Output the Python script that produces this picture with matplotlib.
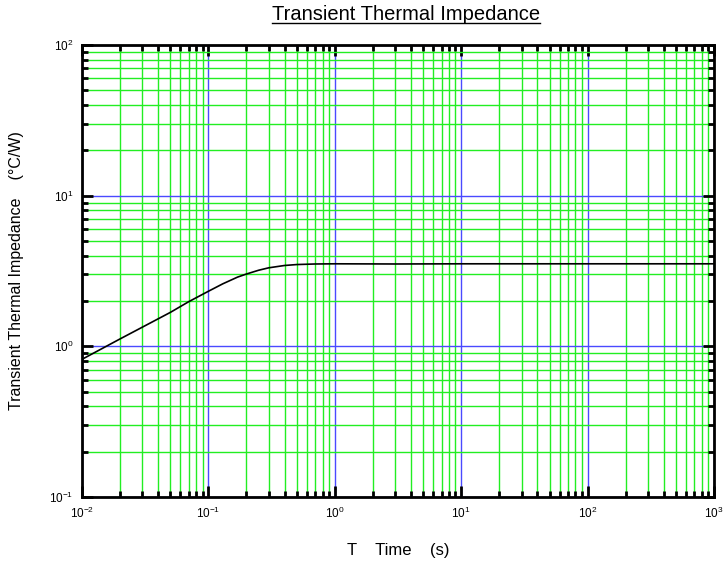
import matplotlib
matplotlib.use("Agg")
import matplotlib.pyplot as plt
from matplotlib.lines import Line2D
import numpy as np

plt.rcParams['font.family'] = ['Liberation Sans', 'DejaVu Sans']
plt.rcParams['mathtext.fontset'] = 'custom'
plt.rcParams['mathtext.rm'] = 'Liberation Sans'

# values
time_s = [0.01, 0.02, 0.03, 0.05, 0.07, 0.1, 0.13, 0.17, 0.2, 0.25, 0.3, 0.4, 0.5, 0.7, 1.0, 3.0, 10.0, 100.0, 1000.0]
zth = [0.82, 1.12, 1.34, 1.68, 1.98, 2.32, 2.60, 2.88, 3.02, 3.20, 3.32, 3.44, 3.49, 3.52, 3.53, 3.52, 3.53, 3.53, 3.53]

title = "Transient Thermal Impedance"
xlabel = "T    Time    (s)"
ylabel = "Transient Thermal Impedance    (°C/W)"

fig = plt.figure(figsize=(7.25, 5.61), dpi=100)
ax = fig.add_axes([82/725, 1-497/561, (714-82)/725, (497-45)/561])

ax.set_xscale('log')
ax.set_yscale('log')
ax.set_xlim(1e-2, 1e3)
ax.set_ylim(1e-1, 1e2)

ax.grid(True, which='minor', color='#22ee22', linewidth=1.0)
ax.grid(True, which='major', color='#4a4aff', linewidth=1.0)
ax.set_axisbelow(True)

ax.plot(time_s, zth, color='black', linewidth=1.2, zorder=3)

for s in ax.spines.values():
    s.set_linewidth(2)
ax.tick_params(which='both', direction='in', top=True, right=True, labelsize=8.5, pad=6)
ax.tick_params(which='major', length=8, width=2)
ax.tick_params(which='minor', length=4, width=2)

ax.set_xlabel(xlabel, fontsize=12, labelpad=16)
ax.set_ylabel(ylabel, fontsize=11.5, labelpad=18)

t = fig.text(406/725, 1-14/561, title, fontsize=14.5, ha='center', va='center')
fig.canvas.draw()
bb = t.get_window_extent().transformed(fig.transFigure.inverted())
fig.add_artist(Line2D([bb.x0, bb.x1], [bb.y0 + 0.001, bb.y0 + 0.001], color='black', linewidth=1, transform=fig.transFigure))

fig.savefig("out.png", dpi=100)
